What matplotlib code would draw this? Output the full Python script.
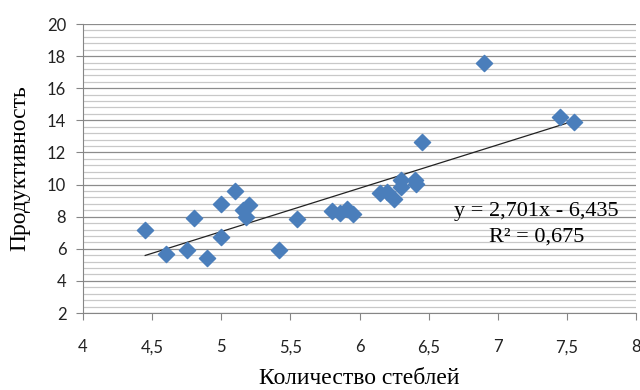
import numpy as np
import matplotlib
matplotlib.use("Agg")
from matplotlib import pyplot as plt
from matplotlib.ticker import MultipleLocator, FuncFormatter

stems = [4.45, 4.6, 4.75, 4.8, 4.9, 5.0, 5.0, 5.1, 5.16, 5.2, 5.18,
         5.42, 5.55, 5.8, 5.86, 5.91, 5.95, 6.15, 6.2, 6.25, 6.3, 6.3,
         6.4, 6.41, 6.45, 6.9, 7.45, 7.55]
productivity = [7.2, 5.65, 5.9, 7.9, 5.45, 8.8, 6.75, 9.6, 8.4, 8.7, 7.95,
                5.9, 7.85, 8.35, 8.25, 8.45, 8.15, 9.5, 9.55, 9.1, 10.3, 9.85,
                10.3, 10.05, 12.65, 17.6, 14.2, 13.9]
slope, intercept = 2.701, -6.435
r2 = 0.675

fig = plt.figure(figsize=(6.4, 3.9), dpi=100)
ax = fig.add_axes([83/640, 1-313/390, (636-83)/640, (313-24)/390])

ax.set_xlim(4, 8)
ax.set_ylim(2, 20)
ax.xaxis.set_major_locator(MultipleLocator(0.5))
ax.yaxis.set_major_locator(MultipleLocator(2))
ax.yaxis.set_minor_locator(MultipleLocator(0.4))
fmt = FuncFormatter(lambda v, p: ('%g' % v).replace('.', ','))
ax.xaxis.set_major_formatter(fmt)
ax.yaxis.set_major_formatter(fmt)

ax.grid(axis='y', which='major', color='#8c8c8c', linewidth=0.9)
ax.grid(axis='y', which='minor', color='#c8c8c8', linewidth=0.9)
ax.set_axisbelow(True)

for s in ['top', 'right']:
    ax.spines[s].set_visible(False)
for s in ['left', 'bottom']:
    ax.spines[s].set_color('#868686')
ax.tick_params(which='major', length=5, color='#868686', labelsize=12,
               labelcolor='#222222', pad=7)
ax.tick_params(axis='x', pad=14)
ax.tick_params(which='minor', length=0)
for lab in ax.get_xticklabels() + ax.get_yticklabels():
    lab.set_family('Lato')

xs = np.array([min(stems), max(stems)])
ax.plot(xs, slope * xs + intercept, color='#222222', linewidth=0.9, zorder=2)
ax.scatter(stems, productivity, marker='D', s=68, color='#4a7ebb',
           edgecolors='#4a7ebb', zorder=3)

ax.text(7.28, 8.35, 'y = 2,701x - 6,435', family='Liberation Serif',
        fontsize=16, ha='center', va='center')
ax.text(7.28, 6.75, 'R² = 0,675', family='Liberation Serif',
        fontsize=16, ha='center', va='center')

ax.set_xlabel('Количество стеблей', family='Liberation Serif', fontsize=17,
              labelpad=9)
ax.set_ylabel('Продуктивность', family='Liberation Serif', fontsize=17,
              labelpad=12)

plt.savefig('out.png', dpi=100)
